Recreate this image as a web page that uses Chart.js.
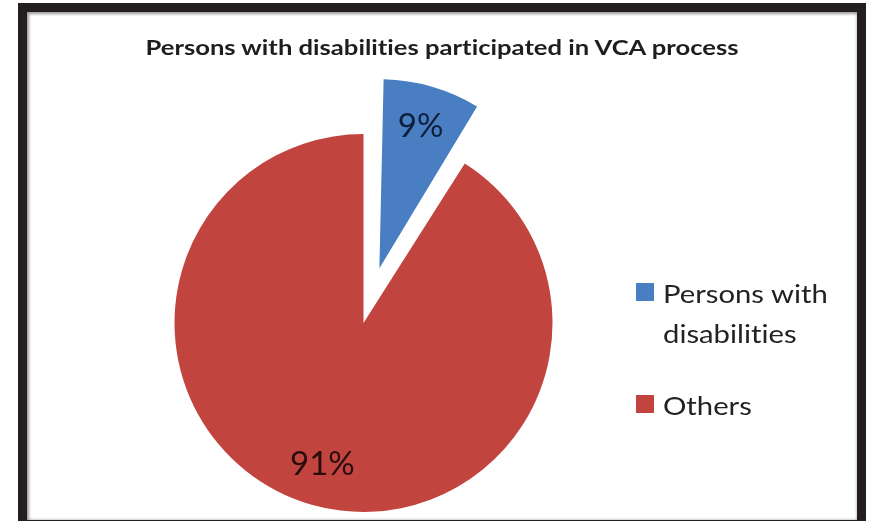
<!DOCTYPE html>
<html>
<head>
<meta charset="utf-8">
<script src="https://cdn.jsdelivr.net/npm/chart.js@4.4.1/dist/chart.umd.min.js"></script>
<style>
  html, body { margin: 0; padding: 0; background: #fff; }
  #stage { position: relative; width: 869px; height: 521px; overflow: hidden; background: #fff; }
  #frame {
    position: absolute; left: 18px; top: 3px; width: 848px; height: 521px;
    box-sizing: border-box; border: 9px solid #231f20; border-bottom-width: 4px;
    box-shadow: inset 1px 1px 3px 1px #9a9a9a; background: #fff;
  }
  #chart { position: absolute; left: 0; top: 0; }
  #title {
    position: absolute; left: 142px; width: 600px; top: 34px; text-align: center;
    font-family: Lato, "Open Sans", sans-serif; font-weight: 700; font-size: 21px; color: #1e1e1e;
    white-space: nowrap; font-variant-ligatures: none;
    transform: scaleX(1.22); transform-origin: 300px 0;
  }
  #legend {
    position: absolute; left: 636px; top: 273px;
    font-family: Lato, "Open Sans", sans-serif; font-size: 25px; color: #222;
    font-variant-ligatures: none; white-space: nowrap;
  }
  .item { position: relative; padding-left: 27px; line-height: 40px; }
  .text { display: inline-block; transform: scaleX(1.17); transform-origin: 0 0; }
  .swatch { position: absolute; left: 0; top: 10px; width: 18px; height: 18px; }
  .item + .item { margin-top: 32px; }
</style>
</head>
<body>
<div id="stage">
  <div id="frame"></div>
  <canvas id="chart" width="869" height="521"></canvas>
  <div id="title"></div>
  <div id="legend"></div>
</div>
<script>
const chartTitle = 'Persons with disabilities participated in VCA process';
const categories = ['Persons with disabilities', 'Others'];
const legendLines = [['Persons with', 'disabilities'], ['Others']];
const shares = [9, 91];
const sliceColors = ['#4a7ec2', '#c2443f'];
const labelColors = ['#0f1e3a', '#2a0c0c'];

document.getElementById('title').textContent = chartTitle;

// legend built from the same category list
const legendBox = document.getElementById('legend');
categories.forEach((name, i) => {
  const item = document.createElement('div');
  item.className = 'item';
  item.title = name;
  const sw = document.createElement('span');
  sw.className = 'swatch';
  sw.style.background = sliceColors[i];
  item.appendChild(sw);
  const txt = document.createElement('span');
  txt.className = 'text';
  legendLines[i].forEach((line, j) => {
    if (j) txt.appendChild(document.createElement('br'));
    txt.appendChild(document.createTextNode(line));
  });
  item.appendChild(txt);
  legendBox.appendChild(item);
});

// ArcElement shifts an exploded slice by offset/4 and also grows its
// radius by offset/4 * (1 - sin(circumference)); undo the growth so the
// pulled-out slice keeps the same radius as the rest of the pie.
function radiusGrowth(arc) {
  const off = (arc.options.offset || 0) / 4;
  return off * (1 - Math.sin(Math.min(Math.PI, arc.circumference || 0)));
}
const keepRadius = {
  id: 'keepRadius',
  afterDatasetUpdate(chart, args) {
    args.meta.data.forEach(arc => {
      const g = radiusGrowth(arc);
      if (g) arc.outerRadius = Math.max(arc.outerRadius - g, 0);
    });
  }
};

// percentage text inside each slice
const sliceLabels = {
  id: 'sliceLabels',
  afterDatasetsDraw(chart) {
    const ctx = chart.ctx;
    const meta = chart.getDatasetMeta(0);
    const total = shares.reduce((a, b) => a + b, 0);
    ctx.save();
    ctx.font = '33px Lato, "Open Sans", sans-serif';
    ctx.textAlign = 'center';
    ctx.textBaseline = 'middle';
    meta.data.forEach((arc, i) => {
      const p = arc.getProps(['x', 'y', 'startAngle', 'endAngle', 'outerRadius']);
      const mid = (p.startAngle + p.endAngle) / 2;
      const off = (arc.options.offset || 0) / 4;
      const r = p.outerRadius + radiusGrowth(arc);
      const d = off + r * 0.78;
      const x = p.x + Math.cos(mid) * d;
      const y = p.y + Math.sin(mid) * d;
      ctx.fillStyle = labelColors[i];
      ctx.fillText(Math.round(shares[i] / total * 100) + '%', x, y);
    });
    ctx.restore();
  }
};

new Chart(document.getElementById('chart'), {
  type: 'pie',
  data: {
    labels: categories,
    datasets: [{
      data: shares,
      backgroundColor: sliceColors,
      borderWidth: 0,
      offset: [228, 0],
      clip: false
    }]
  },
  options: {
    responsive: false,
    devicePixelRatio: 1,
    animation: false,
    events: [],
    radius: 189,
    layout: { padding: { left: 0, right: 142, top: 125, bottom: 0 } },
    plugins: {
      legend: { display: false },
      title: { display: false },
      tooltip: { enabled: false }
    }
  },
  plugins: [keepRadius, sliceLabels]
});
</script>
</body>
</html>
